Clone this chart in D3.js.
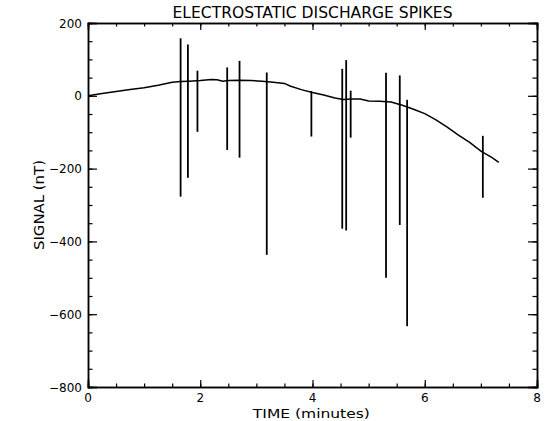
<!DOCTYPE html>
<html>
<head>
<meta charset="utf-8">
<script src="https://cdn.jsdelivr.net/npm/d3@7"></script>
<style>
  body { margin: 0; background: #fff; }
  text { font-family: "DejaVu Sans", "Liberation Sans", sans-serif; fill: #000; }
</style>
</head>
<body>
<div id="chart"></div>
<script>
// plot box
let margin = {top: 23, right: 8, bottom: 34, left: 88},
    W = 545, H = 421,
    width = W - margin.left - margin.right,
    height = H - margin.top - margin.bottom;

// smooth background signal (minutes, nT)
let sigTime = [0, 0.25, 0.5, 0.75, 1.0, 1.25, 1.5, 1.65, 1.8, 2.0, 2.2, 2.3, 2.4, 2.5, 2.7, 2.9, 3.1, 3.3, 3.5,
               3.6, 3.8, 4.0, 4.2, 4.4, 4.55, 4.7, 4.85, 5.0, 5.2, 5.4, 5.6, 5.8, 6.0, 6.2, 6.4, 6.6, 6.8, 7.0, 7.2, 7.32];
let sigValue = [0, 6, 12, 17, 22, 29, 37, 39, 40, 42, 45, 44, 40, 42, 43, 42, 40, 37, 34,
                27, 17, 9, 2, -6, -10, -9, -9, -14, -15, -17, -26, -37, -49, -66, -86, -108, -128, -152, -170, -183];

// discharge spikes: time, top, bottom
let spikeTime = [1.65, 1.78, 1.95, 2.48, 2.70, 3.185, 3.98, 4.53, 4.60, 4.68, 5.31, 5.555, 5.686, 7.035];
let spikeTop = [158, 141, 69, 78, 96, 64, 13, 74, 98, 14, 63, 56, -11, -110];
let spikeBottom = [-277, -225, -99, -149, -170, -437, -112, -365, -370, -115, -500, -355, -633, -280];

let xTicks = [0, 2, 4, 6, 8];
let yTicks = [200, 0, -200, -400, -600, -800];

let svg = d3.select("#chart").append("svg")
    .attr("width", W).attr("height", H)
    .append("g")
    .attr("transform", "translate(" + margin.left + "," + margin.top + ")");

let x = d3.scaleLinear().domain([0, 8]).range([0, width]);
let y = d3.scaleLinear().domain([-800, 200]).range([height, 0]);

// IDL style box: ticks point inward on all four sides
let xMinor = d3.range(0, 8.01, 0.5);
let yMinor = d3.range(-800, 201, 50);

svg.append("g").attr("transform", "translate(0," + height + ")")
    .call(d3.axisTop(x).tickValues(xMinor).tickSize(3.5).tickFormat(""));
svg.append("g").attr("transform", "translate(0," + height + ")")
    .call(d3.axisTop(x).tickValues(xTicks).tickSize(7).tickFormat(""));
svg.append("g")
    .call(d3.axisBottom(x).tickValues(xMinor).tickSize(3.5).tickFormat(""));
svg.append("g")
    .call(d3.axisBottom(x).tickValues(xTicks).tickSize(7).tickFormat(""));
svg.append("g")
    .call(d3.axisRight(y).tickValues(yMinor).tickSize(4.5).tickFormat(""));
svg.append("g")
    .call(d3.axisRight(y).tickValues(yTicks).tickSize(9).tickFormat(""));
svg.append("g").attr("transform", "translate(" + width + ",0)")
    .call(d3.axisLeft(y).tickValues(yMinor).tickSize(4.5).tickFormat(""));
svg.append("g").attr("transform", "translate(" + width + ",0)")
    .call(d3.axisLeft(y).tickValues(yTicks).tickSize(9).tickFormat(""));

svg.selectAll(".domain").attr("stroke", "#000").attr("stroke-width", 1.5);
svg.selectAll(".tick line").attr("stroke", "#000").attr("stroke-width", 1.2);

// tick labels
svg.selectAll("text.xl")
    .data(xTicks).enter().append("text")
    .attr("class", "xl")
    .attr("x", d => x(d))
    .attr("y", height + 15)
    .attr("text-anchor", "middle")
    .style("font-size", "12px")
    .text(d => d);

svg.selectAll("text.yl")
    .data(yTicks).enter().append("text")
    .attr("class", "yl")
    .attr("x", -6)
    .attr("y", d => y(d) + 4.5)
    .attr("text-anchor", "end")
    .style("font-size", "12px")
    .text(d => d < 0 ? "\u2212" + Math.abs(d) : d);

// titles
svg.append("text")
    .attr("x", width / 2)
    .attr("y", -5)
    .attr("text-anchor", "middle")
    .attr("textLength", 280)
    .attr("lengthAdjust", "spacingAndGlyphs")
    .style("font-size", "15px")
    .text("ELECTROSTATIC DISCHARGE SPIKES");

svg.append("text")
    .attr("x", x(3.98))
    .attr("y", height + 31)
    .attr("text-anchor", "middle")
    .attr("textLength", 117)
    .attr("lengthAdjust", "spacingAndGlyphs")
    .style("font-size", "12px")
    .text("TIME (minutes)");

svg.append("text")
    .attr("transform", "translate(-44," + y(-300) + ") rotate(-90)")
    .attr("text-anchor", "middle")
    .attr("textLength", 90)
    .attr("lengthAdjust", "spacingAndGlyphs")
    .style("font-size", "14px")
    .text("SIGNAL (nT)");

// signal curve
let sig = sigTime.map((t, i) => ({t: t, v: sigValue[i]}));
svg.append("path")
    .datum(sig)
    .attr("fill", "none")
    .attr("stroke", "#000")
    .attr("stroke-width", 1.5)
    .attr("d", d3.line().x(d => x(d.t)).y(d => y(d.v)));

// spikes
let spikes = spikeTime.map((t, i) => ({t: t, top: spikeTop[i], bot: spikeBottom[i]}));
svg.selectAll("line.spike")
    .data(spikes).enter().append("line")
    .attr("class", "spike")
    .attr("x1", d => x(d.t)).attr("x2", d => x(d.t))
    .attr("y1", d => y(d.top)).attr("y2", d => y(d.bot))
    .attr("stroke", "#000")
    .attr("stroke-width", 1.8);
</script>
</body>
</html>
